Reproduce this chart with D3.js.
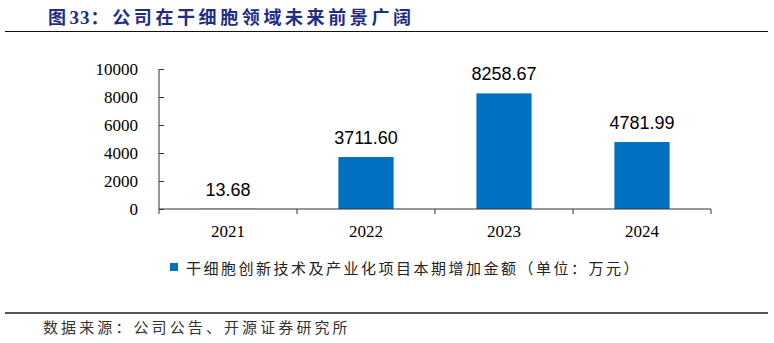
<!DOCTYPE html>
<html>
<head>
<meta charset="utf-8">
<script src="https://cdn.jsdelivr.net/npm/d3@7"></script>
<style>
  html, body { margin: 0; padding: 0; background: #fff; }
  svg { display: block; }
  .yaxis text { font-family: 'Liberation Serif', 'DejaVu Serif', serif; font-size: 17px; }
</style>
</head>
<body>
<svg id="chart" width="774" height="343"></svg>
<script>
// Chart data
const years = ["2021", "2022", "2023", "2024"];
const amounts = [13.68, 3711.60, 8258.67, 4781.99];
const yTicks = [0, 2000, 4000, 6000, 8000, 10000];
const seriesName = "干细胞创新技术及产业化项目本期增加金额（单位：万元）";
const titleText = "公司在干细胞领域未来前景广阔";
const sourceText = "数据来源：公司公告、开源证券研究所";

const svg = d3.select("#chart");
const cjk = "'Noto Sans CJK SC', 'Noto Sans', sans-serif";
const serif = "'Liberation Serif', 'DejaVu Serif', serif";
const barColor = "#0070c0";

// Title
const title = svg.append("text")
  .attr("x", 48).attr("y", 24)
  .attr("fill", "#1f2d85")
  .attr("font-weight", "bold")
  .attr("font-size", 18)
  .attr("letter-spacing", 3.6);
title.append("tspan").attr("font-family", cjk).text("图");
title.append("tspan").attr("font-family", serif).attr("font-size", 19).attr("letter-spacing", 1).text("33");
title.append("tspan").attr("font-family", cjk).text("：" + titleText);

// Rules above and below the chart
svg.append("line").attr("x1", 5).attr("x2", 768).attr("y1", 31.5).attr("y2", 31.5)
  .attr("stroke", "#111").attr("stroke-width", 1.2);
svg.append("line").attr("x1", 5).attr("x2", 768).attr("y1", 313).attr("y2", 313)
  .attr("stroke", "#555").attr("stroke-width", 2);

// Scales
const x = d3.scaleBand().domain(years).range([159, 711]).paddingInner(0).paddingOuter(0);
const y = d3.scaleLinear().domain([0, 10000]).range([209, 69]);
const barW = x.bandwidth() * 0.4;

const g = svg.append("g");

// Bars
g.selectAll("rect.bar").data(years).join("rect")
  .attr("class", "bar")
  .attr("x", (d) => x(d) + (x.bandwidth() - barW) / 2)
  .attr("width", barW)
  .attr("y", (d, i) => y(amounts[i]))
  .attr("height", (d, i) => y(0) - y(amounts[i]))
  .attr("fill", barColor);

// Value labels
g.selectAll("text.val").data(years).join("text")
  .attr("class", "val")
  .attr("x", (d) => x(d) + x.bandwidth() / 2)
  .attr("y", (d, i) => y(amounts[i]) - 13)
  .attr("text-anchor", "middle")
  .attr("font-family", "'Liberation Sans', Arial, sans-serif")
  .attr("font-size", 18)
  .attr("fill", "#000")
  .text((d, i) => amounts[i].toFixed(2));

// Y axis
const yAxis = d3.axisLeft(y).tickValues(yTicks).tickSize(-5).tickPadding(21).tickFormat(d3.format("d"));
const yg = svg.append("g").attr("class", "yaxis").attr("transform", "translate(159,0)").call(yAxis);
yg.attr("font-family", serif).attr("font-size", 17);
yg.select(".domain").attr("d", `M0,${y(10000)}V${y(0)}`).attr("stroke", "#333");
yg.selectAll(".tick line").attr("stroke", "#333");
yg.selectAll(".tick text").attr("fill", "#000").attr("font-family", serif).attr("font-size", 17);

// X axis with tick marks at category boundaries
svg.append("line").attr("x1", 159).attr("x2", 711).attr("y1", y(0)).attr("y2", y(0))
  .attr("stroke", "#333");
const bounds = years.map((d) => x(d)).concat([x(years[years.length - 1]) + x.bandwidth()]);
svg.selectAll("line.xt").data(bounds).join("line")
  .attr("class", "xt")
  .attr("x1", (d) => d).attr("x2", (d) => d)
  .attr("y1", y(0)).attr("y2", y(0) + 5)
  .attr("stroke", "#333");
svg.selectAll("text.year").data(years).join("text")
  .attr("class", "year")
  .attr("x", (d) => x(d) + x.bandwidth() / 2)
  .attr("y", 237)
  .attr("text-anchor", "middle")
  .attr("font-family", serif).attr("font-size", 17)
  .attr("fill", "#000")
  .text((d) => d);

// Legend
svg.append("rect").attr("x", 170).attr("y", 263).attr("width", 8).attr("height", 8).attr("fill", barColor);
svg.append("text").attr("x", 186).attr("y", 274)
  .attr("font-family", cjk).attr("font-size", 15).attr("letter-spacing", 2.5)
  .attr("fill", "#222")
  .text(seriesName);

// Source note
svg.append("text").attr("x", 43).attr("y", 333)
  .attr("font-family", cjk).attr("font-size", 15).attr("letter-spacing", 3.1)
  .attr("fill", "#333")
  .text(sourceText);
</script>
</body>
</html>
